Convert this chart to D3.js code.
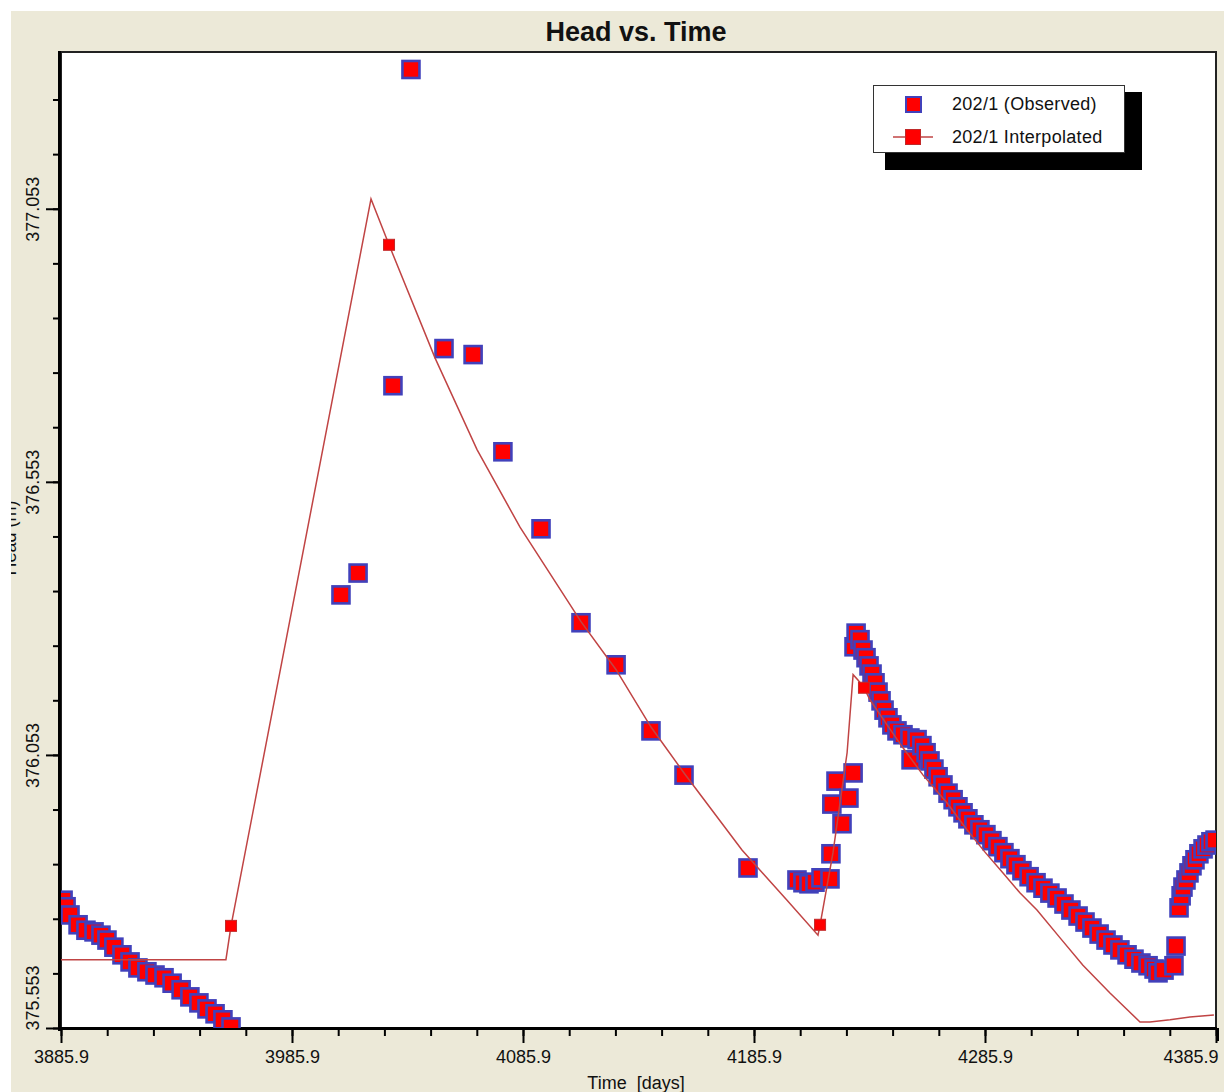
<!DOCTYPE html>
<html>
<head>
<meta charset="utf-8">
<script src="https://cdn.jsdelivr.net/npm/d3@7"></script>
<style>
  body { margin: 0; background: #fff; }
  svg { display: block; }
  text { font-family: "Liberation Sans", Arial, sans-serif; fill: #111; }
</style>
</head>
<body>
<div id="chart"></div>
<script>
// observed heads (202/1)
const obsTime = [
  3886.8, 3888.1, 3889.8, 3893.3, 3896.7, 3900.2, 3903.2, 3905.8, 3908.8, 3912.3,
  3915.8, 3919.2, 3923.1, 3926.6, 3930.5, 3934.0, 3937.9, 3941.7, 3945.6, 3949.1,
  3952.6, 3956.0, 3959.5,
  4007.1, 4014.5, 4029.6, 4037.4, 4051.7, 4064.3, 4077.2, 4093.7, 4111.0, 4126.2,
  4141.3, 4155.6, 4183.3,
  4204.5, 4207.1, 4209.7, 4212.3, 4214.9, 4218.8, 4219.2, 4219.6, 4221.4, 4224.0,
  4227.0, 4228.8,
  4229.2, 4230.1, 4231.8, 4233.1, 4234.4, 4235.7, 4237.0, 4238.3, 4239.6, 4240.9,
  4242.2, 4243.9, 4245.6, 4247.8, 4250.4, 4253.4, 4253.9, 4256.5, 4258.6, 4260.4,
  4262.1, 4263.8, 4265.6, 4267.7, 4269.9, 4272.1, 4274.2, 4276.4, 4278.5, 4281.1,
  4283.7, 4286.3, 4288.9, 4291.5, 4294.1, 4296.7, 4299.3, 4301.9, 4305.0, 4308.0,
  4311.0, 4314.0, 4317.1, 4320.1, 4323.1, 4326.2, 4329.2, 4332.2, 4335.3, 4338.3,
  4341.3, 4344.3, 4347.4, 4350.4, 4353.4, 4356.5, 4359.1, 4360.8, 4363.4, 4367.7,
  4368.6, 4369.9, 4370.8, 4371.6, 4372.9, 4374.2, 4375.5, 4376.8, 4378.5, 4380.3,
  4382.0, 4383.7, 4385.5
]
const obsHead = [
  375.787, 375.775, 375.760, 375.742, 375.732, 375.729, 375.723, 375.714, 375.701, 375.687,
  375.674, 375.663, 375.656, 375.650, 375.645, 375.635, 375.623, 375.610, 375.599, 375.588,
  375.579, 375.568, 375.555,
  376.346, 376.386, 376.729, 377.308, 376.797, 376.786, 376.608, 376.467, 376.295, 376.218,
  376.097, 376.016, 375.846,
  375.824, 375.819, 375.817, 375.820, 375.828, 375.826, 375.872, 375.963, 376.005, 375.927,
  375.974, 376.020,
  376.251, 376.276, 376.264, 376.245, 376.231, 376.216, 376.201, 376.185, 376.168, 376.152,
  376.135, 376.121, 376.108, 376.097, 376.090, 376.084, 376.044, 376.081, 376.070, 376.057,
  376.042, 376.027, 376.013, 375.998, 375.983, 375.971, 375.958, 375.947, 375.936, 375.925,
  375.916, 375.907, 375.896, 375.885, 375.874, 375.863, 375.852, 375.841, 375.830, 375.819,
  375.809, 375.800, 375.791, 375.780, 375.769, 375.758, 375.747, 375.736, 375.725, 375.714,
  375.705, 375.696, 375.687, 375.679, 375.672, 375.667, 375.661, 375.654, 375.659, 375.667,
  375.703, 375.773, 375.795, 375.811, 375.824, 375.837, 375.850, 375.861, 375.872, 375.881,
  375.888, 375.894, 375.897
]

// interpolated heads (202/1)
const interpTime = [
  3885.9, 3957.3, 3959.5, 4020.1, 4027.9, 4047.8, 4066.0, 4084.6, 4111.0, 4126.2,
  4141.3, 4155.6, 4180.7, 4200.2, 4213.6, 4214.5, 4220.1, 4226.2, 4228.8, 4230.9,
  4233.5, 4236.1, 4243.5, 4250.4, 4259.1, 4269.5, 4278.1, 4285.9, 4293.7, 4301.1,
  4308.4, 4318.4, 4328.3, 4340.0, 4353.0, 4357.3, 4366.0, 4374.6, 4385.0
]
const interpHead = [
  375.678, 375.678, 375.740, 377.071, 376.987, 376.780, 376.612, 376.470, 376.297, 376.209,
  376.104, 376.020, 375.879, 375.787, 375.723, 375.742, 375.874, 376.057, 376.200, 376.190,
  376.176, 376.154, 376.108, 376.066, 376.016, 375.965, 375.916, 375.875, 375.837, 375.800,
  375.769, 375.718, 375.668, 375.617, 375.564, 375.564, 375.568, 375.573, 375.577
]
const interpMarkerIdx = [2, 4, 15, 20]

const xMajorTicks = [3885.9, 3985.9, 4085.9, 4185.9, 4285.9, 4385.9]
const yMajorTicks = [375.553, 376.053, 376.553, 377.053]
const xMinorStep = 20
const yMinorStep = 0.1

const chartTitle = "Head vs. Time"
const xTitle = "Time  [days]"
const yTitle = "Head (m)"
const legendLabels = ["202/1 (Observed)", "202/1 Interpolated"]

const W = 1224, H = 1092
const plot = {left: 61, right: 1216, top: 52, bottom: 1028}
const colours = {
  frame: "#ece9d8",
  obsFill: "#ff0000",
  obsStroke: "#4141bb",
  line: "#c04444",
  interpStroke: "#c02a2a"
}

const svg = d3.select("#chart").append("svg")
  .attr("width", W)
  .attr("height", H)

// Frame
svg.append("rect").attr("width", W).attr("height", H).attr("fill", "#fff")
svg.append("rect")
  .attr("x", 11).attr("y", 11)
  .attr("width", W - 11).attr("height", H - 11)
  .attr("fill", colours.frame)

svg.append("clipPath").attr("id", "frameClip")
  .append("rect").attr("x", 11).attr("y", 11).attr("width", W - 11).attr("height", H - 11)
svg.append("clipPath").attr("id", "plotClip")
  .append("rect")
  .attr("x", plot.left).attr("y", plot.top)
  .attr("width", plot.right - plot.left).attr("height", plot.bottom - plot.top)

svg.append("rect")
  .attr("x", plot.left).attr("y", plot.top)
  .attr("width", plot.right - plot.left).attr("height", plot.bottom - plot.top)
  .attr("fill", "#fff")
  .attr("stroke", "#222")
  .attr("stroke-width", 2)

// Scales
const x = d3.scaleLinear().domain([3885.9, 4385.9]).range([plot.left, plot.right])
const y = d3.scaleLinear().domain([375.553, 377.34]).range([plot.bottom, plot.top])

const xMinor = d3.range(xMajorTicks[0], xMajorTicks[xMajorTicks.length - 1] + 1, xMinorStep)
const yMinor = d3.range(yMajorTicks[0], y.domain()[1], yMinorStep)

// Axes
svg.append("g")
  .attr("transform", `translate(0,${plot.bottom + 1})`)
  .call(d3.axisBottom(x).tickValues(xMinor).tickSize(7).tickFormat(""))
const xMajorAxis = svg.append("g")
  .attr("transform", `translate(0,${plot.bottom + 1})`)
  .call(d3.axisBottom(x).tickValues(xMajorTicks).tickSize(14).tickPadding(7).tickFormat(d3.format(".1f")))
xMajorAxis.selectAll("text")
  .style("font-size", "18px")
  .attr("text-anchor", d => d === xMajorTicks[xMajorTicks.length - 1] ? "end" : "middle")
  .attr("x", d => d === xMajorTicks[xMajorTicks.length - 1] ? 2 : 0)

svg.append("g")
  .attr("transform", `translate(${plot.left - 1},0)`)
  .call(d3.axisLeft(y).tickValues(yMinor).tickSize(7).tickFormat(""))
const yMajorAxis = svg.append("g")
  .attr("transform", `translate(${plot.left - 1},0)`)
  .call(d3.axisLeft(y).tickValues(yMajorTicks).tickSize(14).tickFormat(d3.format(".3f")))
yMajorAxis.selectAll("text")
  .style("font-size", "18px")
  .attr("transform", "rotate(-90)")
  .attr("dy", null)
  .attr("y", -21)
  .attr("x", d => d === yMajorTicks[0] ? -2 : 0)
  .attr("text-anchor", d => d === yMajorTicks[0] ? "start" : "middle")

svg.selectAll(".domain").remove()
svg.selectAll(".tick line").attr("stroke", "#000").attr("stroke-width", 2)

// thick left and bottom axis lines
svg.append("rect").attr("x", plot.left - 3).attr("y", plot.top - 1)
  .attr("width", 3).attr("height", plot.bottom - plot.top + 4).attr("fill", "#000")
svg.append("rect").attr("x", plot.left - 3).attr("y", plot.bottom - 1)
  .attr("width", plot.right - plot.left + 4).attr("height", 3).attr("fill", "#000")
// end tick at right
svg.append("rect").attr("x", plot.right).attr("y", plot.bottom)
  .attr("width", 3).attr("height", 13).attr("fill", "#000")

// Titles
svg.append("text")
  .attr("x", 636).attr("y", 41)
  .attr("text-anchor", "middle")
  .style("font-size", "27px").style("font-weight", "bold")
  .text(chartTitle)

svg.append("text")
  .attr("x", 636).attr("y", 1089)
  .attr("text-anchor", "middle")
  .style("font-size", "18px")
  .style("white-space", "pre")
  .text(xTitle)

svg.append("g").attr("clip-path", "url(#frameClip)")
  .append("text")
  .attr("transform", "translate(16,538) rotate(-90)")
  .attr("text-anchor", "middle")
  .style("font-size", "18px")
  .text(yTitle)

// Data
const g = svg.append("g").attr("clip-path", "url(#plotClip)")
const obs = obsTime.map((t, i) => ({t, h: obsHead[i]}))
const interp = interpTime.map((t, i) => ({t, h: interpHead[i]}))

g.selectAll("rect.obs")
  .data(obs)
  .enter()
  .append("rect")
  .attr("class", "obs")
  .attr("x", d => x(d.t) - 8.5)
  .attr("y", d => y(d.h) - 8.5)
  .attr("width", 17)
  .attr("height", 17)
  .attr("fill", colours.obsFill)
  .attr("stroke", colours.obsStroke)
  .attr("stroke-width", 2.6)

g.append("path")
  .datum(interp)
  .attr("fill", "none")
  .attr("stroke", colours.line)
  .attr("stroke-width", 1.5)
  .attr("d", d3.line().x(d => x(d.t)).y(d => y(d.h)))

g.selectAll("rect.interp")
  .data(interpMarkerIdx.map(i => interp[i]))
  .enter()
  .append("rect")
  .attr("class", "interp")
  .attr("x", d => x(d.t) - 5.5)
  .attr("y", d => y(d.h) - 5.5)
  .attr("width", 11)
  .attr("height", 11)
  .attr("fill", colours.obsFill)
  .attr("stroke", colours.interpStroke)
  .attr("stroke-width", 1)

// Legend
const legend = svg.append("g")
legend.append("rect").attr("x", 885).attr("y", 92).attr("width", 257).attr("height", 78).attr("fill", "#000")
legend.append("rect").attr("x", 873.5).attr("y", 85.5).attr("width", 251).attr("height", 67)
  .attr("fill", "#fff").attr("stroke", "#333").attr("stroke-width", 1)

legend.append("rect").attr("x", 906).attr("y", 97).attr("width", 15).attr("height", 15)
  .attr("fill", colours.obsFill).attr("stroke", colours.obsStroke).attr("stroke-width", 2)
legend.append("line").attr("x1", 893).attr("x2", 933).attr("y1", 137).attr("y2", 137)
  .attr("stroke", colours.line).attr("stroke-width", 1.5)
legend.append("rect").attr("x", 905.5).attr("y", 129.5).attr("width", 15).attr("height", 15)
  .attr("fill", colours.obsFill).attr("stroke", colours.interpStroke).attr("stroke-width", 1)

legend.selectAll("text.lbl")
  .data(legendLabels)
  .enter()
  .append("text")
  .attr("class", "lbl")
  .attr("x", 952)
  .attr("y", (d, i) => 110 + i * 33)
  .style("font-size", "18px")
  .style("letter-spacing", "0.3px")
  .text(d => d)
</script>
</body>
</html>
